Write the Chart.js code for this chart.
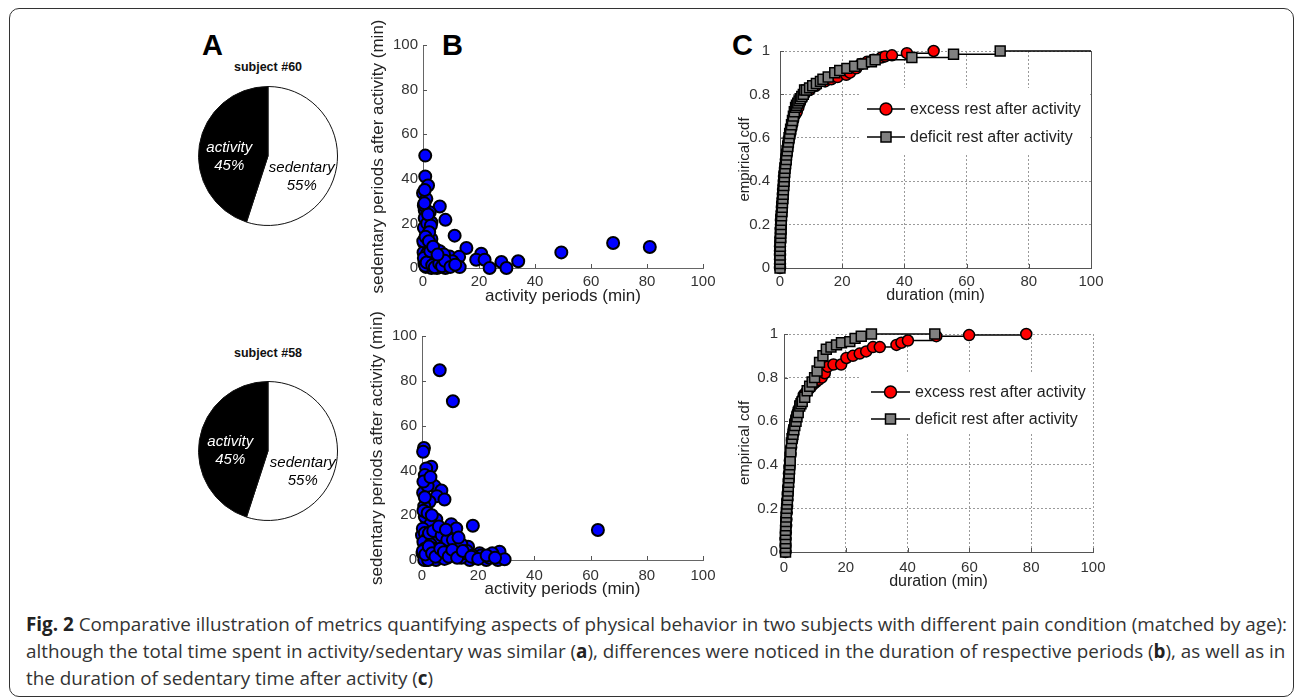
<!DOCTYPE html>
<html>
<head>
<meta charset="utf-8">
<script src="https://cdn.jsdelivr.net/npm/chart.js@4.4.1/dist/chart.umd.min.js"></script>
<style>
html, body { margin: 0; padding: 0; background: #fff; }
body { width: 1296px; height: 697px; position: relative; overflow: hidden; font-family: Arial, "Liberation Sans", sans-serif; }
.frame { position: absolute; left: 9px; top: 8px; width: 1285px; height: 689px; border: 1.5px solid #333; border-radius: 10px; box-sizing: border-box; }
canvas { position: absolute; }
.lbl { position: absolute; font-weight: bold; font-size: 29px; line-height: 28px; color: #000; }
.subj { position: absolute; font-weight: bold; font-size: 12.5px; color: #111; transform: translate(-50%, -50%); white-space: nowrap; }
.cap { position: absolute; left: 26px; top: 611px; font-family: "Open Sans", sans-serif; font-size: 17px; line-height: 27px; color: #333; white-space: nowrap; }
.cap b { color: #222; }
</style>
</head>
<body>
<div class="frame"></div>

<div class="lbl" style="left:202px;top:31px;">A</div>
<div class="lbl" style="left:442px;top:31px;">B</div>
<div class="lbl" style="left:732px;top:31px;">C</div>

<div class="subj" style="left:268px;top:67px;">subject #60</div>
<div class="subj" style="left:268px;top:353px;">subject #58</div>

<canvas id="pie60" width="140" height="140" style="left:198px;top:86px;"></canvas>
<canvas id="pie58" width="140" height="140" style="left:198px;top:381px;"></canvas>
<canvas id="sc60" width="380" height="290" style="left:355px;top:20px;"></canvas>
<canvas id="sc58" width="380" height="290" style="left:354px;top:311px;"></canvas>
<canvas id="cdf60" width="395" height="285" style="left:720px;top:25px;"></canvas>
<canvas id="cdf58" width="395" height="285" style="left:724px;top:308px;"></canvas>

<div class="cap" id="cap">
<span id="capLine1"><b>Fig. 2</b> Comparative illustration of metrics quantifying aspects of physical behavior in two subjects with different pain condition (matched by age):</span><br>
although the total time spent in activity/sedentary was similar (<b>a</b>), differences were noticed in the duration of respective periods (<b>b</b>), as well as in<br>
the duration of sedentary time after activity (<b>c</b>)
</div>

<script>
// pie: share of time
const pieLabels = ['sedentary', 'activity'];
const pie60 = [55, 45];
const pie58 = [55, 45];
const pieColors = ['#ffffff', '#000000'];

// scatter: activity period vs following sedentary period (min)
const act60 = [0.8, 0.8, 1.8, 0, 1.2, 0.6, 6, 2.4, 0.6, 8, 3, 1.2, 11.3, 0.4, 1.5, 15.5, 1.2, 4.8, 6, 9.5,
  12.9, 20.8, 19, 22, 13.1, 23.8, 28, 29.8, 34, 49.4, 67.9, 81,
  0.5, 1, 2, 3, 4, 5, 6, 7, 8, 2.5, 3.5, 5, 7, 1, 0.2, 2, 3, 0.3, 1.5, 4, 9, 10.5, 6.5, 4.5, 2, 0.8, 1.5, 3,
  7.5, 0.3, 1.8, 2.8, 5.5, 0.1, 1.2, 3.8, 0.6, 2.2,
  0.3, 1.3, 2.6, 3.3, 4.2, 5.8, 6.8, 7.8, 9.8, 11.5, 0.9, 2.1, 3.6, 5.2, 0.5];
const sed60 = [50.4, 41, 37, 33.6, 31, 26, 27.6, 25, 22.4, 21.6, 20.4, 15.7, 14.5, 11.2, 11, 9, 8.2, 8.2, 7.5, 5.2,
  5, 6.4, 3.7, 3.7, 0.4, 0, 2.7, 0, 3, 7, 11.2, 9.4,
  2, 0.5, 1, 0, 1.5, 0, 0.5, 1, 0, 4, 6, 3, 4, 5, 7, 10, 13, 18, 20, 2, 1, 3, 2.5, 5, 3, 1, 6.5, 9,
  6, 28, 24, 19, 0.5, 12, 4, 2, 35, 16,
  4.5, 2.5, 7.5, 1.2, 0.3, 2, 0.8, 3.2, 0.5, 1.5, 14, 12, 9.5, 6, 29];
const act58 = [6.3, 11, 0.7, 0.4, 3.3, 1.5, 1, 4.5, 6.9, 5.3, 8, 0.4, 2.7, 0.8, 1, 5.1, 10.4, 18.1, 12.2, 62.6,
  0, 5.1, 8.7, 13.4, 16.4, 20.5, 27.6, 27, 22.9, 17, 29.4, 1.5,
  0.5, 2, 3, 0.3, 1, 2, 0.5, 3, 4, 6, 7, 9, 10, 11, 12, 14, 15, 19, 21, 24, 25, 2, 3, 4, 5, 6, 8, 0.2,
  1, 2.5, 4, 7, 9, 3.5, 6, 8.5, 11, 14, 16, 18, 13, 2, 1, 0.5, 3, 1.5, 0.8, 2.2,
  0.3, 1.2, 2.4, 3.6, 4.8, 6.5, 7.8, 9.5, 10.8, 12.5, 14.5, 17.5, 20, 23, 26];
const sed58 = [84.7, 70.9, 50, 48.3, 41.6, 40.9, 37.9, 33, 31, 28.5, 27, 30, 26, 24, 19.3, 18.1, 16, 15.3, 14.1, 13.4,
  11.1, 9.2, 8.2, 5.9, 5.9, 3, 3.7, 0, 0, 0, 0.3, 0.3,
  22, 21, 16, 14, 12, 10, 8, 7, 5, 4, 2, 1, 3, 6, 2, 1, 3, 1, 2, 1, 3, 2, 0.5, 1, 0, 1.5, 0.5, 3, 5, 12,
  13, 11, 9, 20, 15, 13.5, 9, 7, 4, 2, 10, 33, 28, 35, 37, 0, 0, 0,
  4, 2.5, 6, 3, 1.5, 5, 3.5, 1.5, 4.5, 1, 4, 1.5, 0.5, 2, 1];

// empirical cdf of sedentary duration (min)
const cdfSeries = ['excess rest after activity', 'deficit rest after activity'];
const cdf60ExcessX = [0, 0, 0, 0, 0, 0, 0.1, 0.1, 0.2, 0.2,
  0.3, 0.3, 0.4, 0.5, 0.6, 0.7, 0.8, 0.9, 1.0, 1.1,
  1.2, 1.3, 1.4, 1.6, 1.8, 1.9, 2.1, 2.3, 2.5, 2.7,
  3.0, 3.3, 3.6, 3.9, 4.2, 4.6, 5.0, 5.4, 5.9, 6.4,
  7.0, 7.8, 9.5, 11.5, 14.5, 16.5, 18.5, 21.3, 22.5, 24.5,
  26, 28, 30, 32.6, 33.8, 36, 40.8, 49.4];
const cdf60ExcessY = [0, 0.02, 0.04, 0.06, 0.08, 0.10, 0.12, 0.14, 0.16, 0.18,
  0.20, 0.22, 0.24, 0.26, 0.28, 0.30, 0.32, 0.34, 0.36, 0.38,
  0.40, 0.42, 0.44, 0.46, 0.48, 0.50, 0.52, 0.54, 0.56, 0.58,
  0.60, 0.62, 0.64, 0.66, 0.68, 0.70, 0.71, 0.72, 0.74, 0.76,
  0.78, 0.80, 0.82, 0.84, 0.86, 0.87, 0.88, 0.89, 0.90, 0.92,
  0.94, 0.95, 0.96, 0.97, 0.975, 0.98, 0.99, 1.0];
const cdf60DeficitX = [0, 0, 0, 0, 0, 0.1, 0.1, 0.2, 0.2, 0.3,
  0.3, 0.4, 0.5, 0.6, 0.7, 0.8, 0.9, 1.0, 1.1, 1.2,
  1.3, 1.4, 1.5, 1.6, 1.8, 2.0, 2.1, 2.3, 2.5, 2.7,
  2.9, 3.1, 3.4, 3.7, 4.0, 4.3, 4.6, 5.0, 5.3, 5.7,
  6.1, 6.5, 7.0, 7.5, 7.9, 8.5, 9.5, 10.5, 11.7, 13.0,
  13.8, 15.5, 17.6, 19.2, 21.5, 24.0, 26.5, 29.4, 30.6, 42.4,
  55.8, 70.8, 100];
const cdf60DeficitY = [0, 0.02, 0.04, 0.06, 0.08, 0.10, 0.12, 0.14, 0.16, 0.18,
  0.20, 0.22, 0.24, 0.26, 0.28, 0.30, 0.32, 0.34, 0.36, 0.38,
  0.40, 0.42, 0.44, 0.46, 0.48, 0.50, 0.52, 0.54, 0.56, 0.58,
  0.60, 0.62, 0.64, 0.66, 0.68, 0.70, 0.72, 0.74, 0.75, 0.76,
  0.77, 0.78, 0.79, 0.80, 0.82, 0.82, 0.83, 0.84, 0.85, 0.86,
  0.87, 0.88, 0.90, 0.91, 0.92, 0.93, 0.94, 0.95, 0.96, 0.97,
  0.985, 1.0, 1.0];
const cdf58ExcessX = [0.5, 0.5, 0.5, 0.6, 0.7, 0.8, 0.9, 1.0, 1.1, 1.2,
  1.35, 1.5, 1.6, 1.75, 1.9, 2.1, 2.3, 2.6, 2.9, 3.2,
  3.6, 4.0, 4.4, 4.9, 5.4, 5.9, 6.4, 7.0, 7.6, 8.2,
  8.8, 9.5, 10.3, 11.2, 12.2, 13.2, 14.2, 16, 18.5, 20.2,
  22.3, 24.5, 26.6, 28.8, 31, 36.4, 38, 40.1, 49.3, 59.9,
  78.4];
const cdf58ExcessY = [0, 0.03, 0.06, 0.09, 0.12, 0.15, 0.18, 0.21, 0.24, 0.27,
  0.30, 0.33, 0.36, 0.39, 0.42, 0.45, 0.48, 0.51, 0.54, 0.57,
  0.60, 0.62, 0.64, 0.66, 0.68, 0.70, 0.72, 0.73, 0.74, 0.75,
  0.76, 0.77, 0.78, 0.79, 0.80, 0.82, 0.85, 0.86, 0.86, 0.89,
  0.90, 0.91, 0.92, 0.94, 0.94, 0.95, 0.96, 0.97, 0.99, 0.995,
  1.0];
const cdf58DeficitX = [0.5, 0.5, 0.5, 0.5, 0.5, 0.5, 0.6, 0.6, 0.7, 0.75,
  0.85, 0.95, 1.1, 1.2, 1.3, 1.4, 1.5, 1.6, 1.7, 1.8,
  1.9, 2.0, 2.2, 2.4, 2.6, 2.9, 3.2, 3.5, 3.9, 4.2,
  4.6, 5.1, 5.5, 5.9, 6.7, 7.5, 8.3, 9.1, 9.9, 10.7,
  11.5, 12.6, 13.7, 15.2, 17.0, 18.6, 21.3, 23.0, 25.0, 28.3,
  48.8];
const cdf58DeficitY = [0, 0.02, 0.04, 0.06, 0.08, 0.10, 0.12, 0.14, 0.16, 0.18,
  0.20, 0.22, 0.24, 0.26, 0.28, 0.30, 0.32, 0.34, 0.36, 0.38,
  0.40, 0.42, 0.46, 0.50, 0.52, 0.54, 0.56, 0.58, 0.60, 0.62,
  0.64, 0.67, 0.68, 0.69, 0.71, 0.74, 0.76, 0.78, 0.80, 0.83,
  0.87, 0.90, 0.93, 0.94, 0.95, 0.96, 0.965, 0.98, 0.99, 1.0,
  1.0];

Chart.defaults.font.family = 'Arial, "Liberation Sans", sans-serif';
Chart.defaults.color = '#333';

const zip = (xs, ys) => xs.map((x, i) => ({ x: x, y: ys[i] }));

// text inside the pie slices
const pieText = {
  id: 'pieText',
  afterDatasetsDraw(chart, args, o) {
    const ctx = chart.ctx;
    const meta = chart.getDatasetMeta(0);
    ctx.save();
    ctx.font = 'italic 15px Arial, "Liberation Sans", sans-serif';
    ctx.textAlign = 'center';
    ctx.textBaseline = 'middle';
    meta.data.forEach((arc, i) => {
      const p = arc.getProps(['x', 'y', 'startAngle', 'endAngle', 'outerRadius'], true);
      const mid = (p.startAngle + p.endAngle) / 2;
      const r = p.outerRadius * 0.55;
      const cx = p.x + Math.cos(mid) * r + o.shift[i][0];
      const cy = p.y + Math.sin(mid) * r + o.shift[i][1];
      ctx.fillStyle = i === 1 ? '#fff' : '#000';
      ctx.fillText(chart.data.labels[i], cx, cy - 9);
      ctx.fillText(chart.data.datasets[0].data[i] + '%', cx, cy + 9);
    });
    ctx.restore();
  }
};

// matlab style inward ticks, optional box edge, legend inside the axes
const axesExtras = {
  id: 'axesExtras',
  beforeDatasetsDraw(chart, args, o) {
    const ctx = chart.ctx;
    const a = chart.chartArea;
    const sx = chart.scales.x, sy = chart.scales.y;
    ctx.save();
    ctx.strokeStyle = '#555';
    ctx.lineWidth = 1;
    ctx.beginPath();
    sx.ticks.forEach(t => {
      const p = Math.round(sx.getPixelForValue(t.value)) + 0.5;
      ctx.moveTo(p, a.bottom); ctx.lineTo(p, a.bottom - 4);
    });
    sy.ticks.forEach(t => {
      const p = Math.round(sy.getPixelForValue(t.value)) + 0.5;
      ctx.moveTo(a.left, p); ctx.lineTo(a.left + 4, p);
    });
    if (o.rightEdge) {
      ctx.moveTo(Math.round(a.right) + 0.5, a.top);
      ctx.lineTo(Math.round(a.right) + 0.5, a.bottom);
    }
    ctx.stroke();

    if (o.legend) {
      const L = o.legend;
      ctx.fillStyle = '#fff';
      ctx.fillRect(L.box[0], L.box[1], L.box[2], L.box[3]);
      ctx.font = '16px Arial, "Liberation Sans", sans-serif';
      ctx.textBaseline = 'middle';
      ctx.textAlign = 'left';
      chart.data.datasets.forEach((ds, i) => {
        const y = L.rows[i];
        ctx.strokeStyle = '#000';
        ctx.lineWidth = 1.5;
        ctx.beginPath();
        ctx.moveTo(L.line[0], y); ctx.lineTo(L.line[1], y);
        ctx.stroke();
        const mx = (L.line[0] + L.line[1]) / 2;
        ctx.fillStyle = ds.pointBackgroundColor;
        ctx.beginPath();
        if (ds.pointStyle === 'rect') {
          ctx.rect(mx - 5, y - 5, 10, 10);
        } else {
          ctx.arc(mx, y, 6, 0, Math.PI * 2);
        }
        ctx.fill();
        ctx.stroke();
        ctx.fillStyle = '#222';
        ctx.fillText(ds.label, L.textX, y + 1);
      });
    }
    ctx.restore();
  }
};

function pieChart(id, values, shift) {
  return new Chart(document.getElementById(id), {
    type: 'pie',
    data: {
      labels: pieLabels,
      datasets: [{ data: values, backgroundColor: pieColors, borderColor: '#111', borderWidth: 1 }]
    },
    options: {
      responsive: false, animation: false, events: [],
      layout: { padding: 0 },
      plugins: { legend: { display: false }, tooltip: { enabled: false }, pieText: { shift: shift } }
    },
    plugins: [pieText]
  });
}

function scatterChart(id, xs, ys, s) {
  return new Chart(document.getElementById(id), {
    type: 'scatter',
    data: {
      datasets: [{
        data: zip(xs, ys),
        backgroundColor: '#0000ff', borderColor: '#000', borderWidth: 2,
        pointRadius: 6, pointHoverRadius: 6, clip: false
      }]
    },
    options: {
      responsive: false, animation: false, events: [],
      layout: { padding: { left: 0, top: 25, right: s.right, bottom: 0 } },
      plugins: { legend: { display: false }, tooltip: { enabled: false }, axesExtras: {} },
      scales: {
        x: {
          type: 'linear', min: 0, max: 100,
          ticks: { stepSize: 20, padding: s.xPad, color: '#333', font: { size: 15 }, maxRotation: 0 },
          grid: { display: false, drawTicks: false },
          border: { color: '#666', width: 1 },
          title: { display: true, text: 'activity periods (min)', color: '#222', font: { size: 17 }, padding: { top: 0, bottom: s.xTitle } },
          afterFit: sc => { sc.height = s.xH; }
        },
        y: {
          type: 'linear', min: 0, max: 100,
          ticks: { stepSize: 20, padding: 5, color: '#333', font: { size: 15 } },
          grid: { display: false, drawTicks: false },
          border: { color: '#666', width: 1 },
          title: { display: true, text: 'sedentary periods after activity (min)', color: '#222', font: { size: 17 }, padding: { top: 13, bottom: 0 } },
          afterFit: sc => { sc.width = 68; }
        }
      }
    },
    plugins: [axesExtras]
  });
}

function cdfChart(id, ex, ey, dx, dy, s) {
  return new Chart(document.getElementById(id), {
    type: 'scatter',
    data: {
      datasets: [{
        label: cdfSeries[0], data: zip(ex, ey), showLine: true, stepped: 'before',
        borderColor: '#000', borderWidth: 1.5,
        pointStyle: 'circle', pointRadius: 5.5, pointHoverRadius: 5.5,
        pointBackgroundColor: '#ff0000', backgroundColor: '#ff0000',
        pointBorderColor: '#000', pointBorderWidth: 1.5, order: 1, clip: false
      }, {
        label: cdfSeries[1], data: zip(dx, dy), showLine: true, stepped: 'before',
        borderColor: '#000', borderWidth: 1.5,
        pointStyle: 'rect',
        pointRadius: c => (c.raw && c.raw.x >= 100 ? 0 : 7),
        pointHoverRadius: 7,
        pointBackgroundColor: '#808080', backgroundColor: '#808080',
        pointBorderColor: '#000', pointBorderWidth: 1.5, order: 0, clip: false
      }]
    },
    options: {
      responsive: false, animation: false, events: [],
      layout: { padding: { left: 0, top: 26, right: s.right, bottom: 0 } },
      plugins: {
        legend: { display: false }, tooltip: { enabled: false },
        axesExtras: { rightEdge: s.rightEdge, legend: s.legend }
      },
      scales: {
        x: {
          type: 'linear', min: 0, max: 100,
          ticks: { stepSize: 20, padding: s.xPad, color: '#333', font: { size: 15 }, maxRotation: 0 },
          grid: { color: '#9a9a9a', lineWidth: 1, drawTicks: false },
          border: { color: '#555', width: 1, dash: [2, 2] },
          title: { display: true, text: 'duration (min)', color: '#222', font: { size: 16 }, padding: { top: 0, bottom: s.xTitle } },
          afterFit: sc => { sc.height = s.xH; }
        },
        y: {
          type: 'linear', min: 0, max: 1,
          ticks: { stepSize: 0.2, padding: s.yPad, color: '#333', font: { size: 15 }, callback: v => String(+v.toFixed(1)) },
          grid: { color: '#9a9a9a', lineWidth: 1, drawTicks: false },
          border: { color: '#555', width: 1, dash: [2, 2] },
          title: { display: true, text: 'empirical cdf', color: '#222', font: { size: 15 }, padding: { top: s.yTitle, bottom: 0 } },
          afterFit: sc => { sc.width = 60; }
        }
      }
    },
    plugins: [axesExtras]
  });
}

pieChart('pie60', pie60, [[-4, 15], [-1, 7]]);
pieChart('pie58', pie58, [[-3, 15], [0, 6]]);

scatterChart('sc60', act60, sed60, { right: 32, xH: 42, xPad: 5, xTitle: 3 });
scatterChart('sc58', act58, sed58, { right: 31, xH: 41, xPad: 7, xTitle: 1 });

cdfChart('cdf60', cdf60ExcessX, cdf60ExcessY, cdf60DeficitX, cdf60DeficitY, {
  right: 24, xH: 42, xPad: 5, xTitle: 5, yPad: 10, yTitle: 16, rightEdge: true,
  legend: { box: [140, 63, 230, 67], rows: [84, 112], line: [147, 185], textX: 190 }
});
cdfChart('cdf58', cdf58ExcessX, cdf58ExcessY, cdf58DeficitX, cdf58DeficitY, {
  right: 26, xH: 41, xPad: 7, xTitle: 2, yPad: 6, yTitle: 12, rightEdge: false,
  legend: { box: [136, 66, 233, 58], rows: [84, 111], line: [147, 186], textX: 191 }
});

// fit the caption's first line to the frame width
const cap = document.getElementById('cap');
const w1 = document.getElementById('capLine1').getBoundingClientRect().width;
cap.style.fontSize = (17 * 1262 / w1).toFixed(2) + 'px';
</script>
</body>
</html>
